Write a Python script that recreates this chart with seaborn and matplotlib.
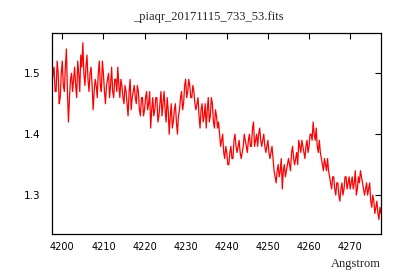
import numpy as np
import pandas as pd
import matplotlib
matplotlib.use("Agg")
import matplotlib.pyplot as plt
import seaborn as sns

wave_start = 4197.5
wave_step = 0.25

# values on the whole and half Angstrom
flux_even = [
    1.48, 1.51, 1.47, 1.50, 1.46, 1.52, 1.47, 1.54, 1.42, 1.49,
    1.47, 1.51, 1.46, 1.50, 1.53, 1.55, 1.48, 1.53, 1.47, 1.51,
    1.44, 1.49, 1.46, 1.52, 1.47, 1.50, 1.45, 1.49, 1.46, 1.51,
    1.46, 1.49, 1.51, 1.46, 1.48, 1.45, 1.47, 1.43, 1.49, 1.46,
    1.48, 1.45, 1.47, 1.43, 1.46, 1.44, 1.47, 1.45, 1.41, 1.46,
    1.44, 1.46, 1.43, 1.47, 1.45, 1.44, 1.46, 1.40, 1.45, 1.42,
    1.45, 1.40, 1.44, 1.47, 1.45, 1.49, 1.47, 1.48, 1.46, 1.47,
    1.44, 1.46, 1.41, 1.45, 1.43, 1.41, 1.46, 1.43, 1.45, 1.41,
    1.43, 1.42, 1.38, 1.40, 1.36, 1.37, 1.35, 1.38, 1.36, 1.40,
    1.37, 1.39, 1.36, 1.38, 1.39, 1.37, 1.40, 1.38, 1.42, 1.39,
    1.38, 1.41, 1.38, 1.40, 1.37, 1.39, 1.36, 1.38, 1.34, 1.32,
    1.35, 1.34, 1.31, 1.35, 1.34, 1.36, 1.34, 1.38, 1.35, 1.37,
    1.39, 1.37, 1.38, 1.36, 1.39, 1.38, 1.40, 1.42, 1.39, 1.38,
    1.39, 1.36, 1.34, 1.35, 1.36, 1.33, 1.31, 1.33, 1.30, 1.32,
    1.29, 1.32, 1.31, 1.33, 1.32, 1.31, 1.33, 1.32, 1.30, 1.33,
    1.34, 1.32, 1.30, 1.32, 1.31, 1.29, 1.30, 1.27, 1.29, 1.26, 1.27,
]
# values on the quarter points in between
flux_odd = [
    1.50, 1.47, 1.52, 1.45, 1.50, 1.48, 1.51, 1.47, 1.46, 1.50,
    1.49, 1.48, 1.52, 1.47, 1.51, 1.50, 1.51, 1.49, 1.50, 1.48,
    1.47, 1.48, 1.50, 1.48, 1.52, 1.47, 1.48, 1.50, 1.48, 1.47,
    1.49, 1.47, 1.48, 1.49, 1.46, 1.48, 1.45, 1.47, 1.44, 1.47,
    1.46, 1.48, 1.44, 1.46, 1.43, 1.46, 1.44, 1.47, 1.44, 1.43,
    1.46, 1.42, 1.45, 1.43, 1.47, 1.42, 1.44, 1.43, 1.41, 1.44,
    1.42, 1.43, 1.46, 1.44, 1.48, 1.46, 1.49, 1.46, 1.48, 1.45,
    1.45, 1.43, 1.44, 1.42, 1.45, 1.44, 1.42, 1.46, 1.42, 1.44,
    1.41, 1.40, 1.39, 1.37, 1.38, 1.35, 1.37, 1.36, 1.39, 1.38,
    1.38, 1.37, 1.37, 1.40, 1.38, 1.39, 1.38, 1.41, 1.38, 1.40,
    1.40, 1.39, 1.39, 1.38, 1.38, 1.37, 1.37, 1.36, 1.33, 1.34,
    1.33, 1.36, 1.34, 1.33, 1.35, 1.35, 1.37, 1.36, 1.36, 1.35,
    1.38, 1.39, 1.37, 1.38, 1.37, 1.40, 1.39, 1.40, 1.41, 1.37,
    1.37, 1.35, 1.36, 1.34, 1.34, 1.32, 1.33, 1.31, 1.32, 1.30,
    1.31, 1.30, 1.33, 1.31, 1.33, 1.32, 1.31, 1.34, 1.31, 1.32,
    1.33, 1.31, 1.31, 1.30, 1.32, 1.28, 1.29, 1.28, 1.27, 1.28,
]

flux = []
for i, v in enumerate(flux_even):
    flux.append(v)
    if i < len(flux_odd):
        flux.append(flux_odd[i])
wave = [wave_start + wave_step * i for i in range(len(flux))]

x_ticks = [4200, 4210, 4220, 4230, 4240, 4250, 4260, 4270]
y_ticks = [1.3, 1.4, 1.5]

df = pd.DataFrame({"wave": wave, "flux": flux})

sns.set_style("white")

fig = plt.figure(figsize=(4, 2.8), dpi=100)
ax = fig.add_axes([0.13, 0.164, 0.8225, 0.718])

sns.lineplot(data=df, x="wave", y="flux", color="red", linewidth=0.9, ax=ax)

ax.set_xlim(4197.5, 4277.5)
ax.set_ylim(1.236, 1.566)
ax.set_xticks(x_ticks)
ax.set_yticks(y_ticks)
ax.set_xticklabels([str(t) for t in x_ticks], fontsize=7, family="DejaVu Sans")
ax.set_yticklabels([f"{t:.1f}" for t in y_ticks], fontsize=7.5, family="DejaVu Sans")
ax.tick_params(direction="in", length=4, width=0.8, top=True, right=True,
               colors="black", pad=6)
ax.tick_params(axis="y", pad=8)
for s in ax.spines.values():
    s.set_color("black")
    s.set_linewidth(0.9)

ax.set_xlabel("")
ax.set_ylabel("")
fig.text(0.52, 0.94, "_piaqr_20171115_733_53.fits", ha="center", va="center",
         fontsize=9, family="Liberation Serif")
fig.text(0.9525, 0.035, "Angstrom", ha="right", va="bottom", fontsize=9,
         family="Liberation Serif")

fig.savefig("out.png", dpi=100)
